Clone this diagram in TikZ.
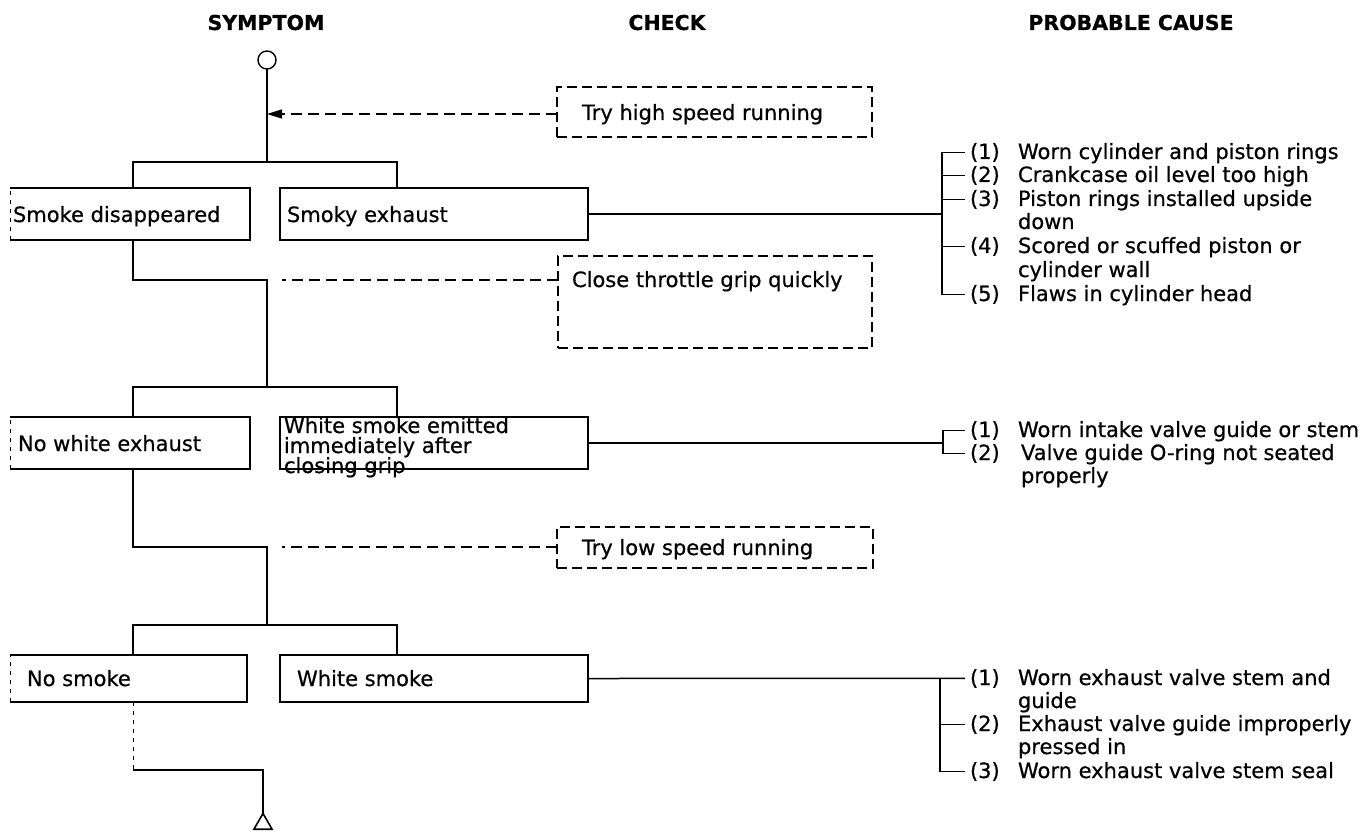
\documentclass[tikz,border=0pt]{standalone}
\usepackage{fontspec}
\setmainfont{DejaVu Sans}[FakeBold=0.6]
\usetikzlibrary{arrows.meta,shapes.geometric}
\begin{document}
\begin{tikzpicture}[x=1pt,y=-1pt,
  every node/.style={font=\fontsize{21}{24}\selectfont, inner sep=0pt, outer sep=0pt},
  hdr/.style={font=\fontsize{20.5}{24}\selectfont\bfseries, anchor=base},
  txt/.style={anchor=base west},
  area/.style={anchor=north west, draw=none},
  sbox/.style={anchor=north west, draw, line width=1.6pt},
  cbox/.style={anchor=north west, draw, line width=1.5pt, dash pattern=on 10pt off 5pt},
  ln/.style={line width=1.5pt},
  bl/.style={line width=1.6pt},
  dln/.style={line width=1.5pt, dash pattern=on 11pt off 6pt},
  faint/.style={line width=0.8pt, dash pattern=on 4pt off 5pt},
]
\useasboundingbox (0,0) rectangle (1364,834);

% headers
\node[hdr] (h1) at (266,30) {SYMPTOM};
\node[hdr] (h2) at (667,30) {CHECK};
\node[hdr] (h3) at (1131,30) {PROBABLE CAUSE};

% guide coordinates
\coordinate (xl) at (133,0);
\coordinate (xr) at (397,0);
\coordinate (j1) at (267,162);
\coordinate (a1) at (267,114);
\coordinate (m1) at (267,280);
\coordinate (d1) at (282,280);
\coordinate (j2) at (267,387);
\coordinate (m2) at (267,547);
\coordinate (d2) at (282,547);
\coordinate (j3) at (267,625);
\coordinate (q)  at (133,770);

% start / end symbols
\node[circle, draw, line width=1.4pt, minimum size=18pt] (start) at (267,60) {};
\node[regular polygon, regular polygon sides=3, draw, line width=1.6pt, minimum size=21pt] (stop) at (263,824) {};

% check boxes
\node[cbox, minimum width=315pt, minimum height=50pt] (c1) at (557,87) {};
\node[txt] (c1t) at (582,120) {Try high speed running};
\node[cbox, minimum width=314pt, minimum height=92pt] (c2) at (558,256) {};
\node[txt] (c2t) at (572,287) {Close throttle grip quickly};
\node[cbox, minimum width=316pt, minimum height=41pt] (c3) at (557,527) {};
\node[txt] (c3t) at (582,555) {Try low speed running};

% symptom boxes
\node[area, minimum width=240pt, minimum height=52pt] (b1) at (10,188) {};
\node[txt] (b1t) at (13,222) {Smoke disappeared};
\node[sbox, minimum width=308pt, minimum height=52pt] (b2) at (280,188) {};
\node[txt] (b2t) at (287,222) {Smoky exhaust};

\node[area, minimum width=240pt, minimum height=52pt] (b3) at (10,417) {};
\node[txt] (b3t) at (18,451) {No white exhaust};
\node[sbox, minimum width=308pt, minimum height=52pt] (b4) at (280,417) {};
\node[txt] (b4a) at (284,433) {White smoke emitted};
\node[txt] (b4b) at (284,453) {immediately after};
\node[txt] (b4c) at (284,473) {closing grip};

\node[area, minimum width=237pt, minimum height=47pt] (b5) at (10,655) {};
\node[txt] (b5t) at (27,686) {No smoke};
\node[sbox, minimum width=308pt, minimum height=47pt] (b6) at (280,655) {};
\node[txt] (b6t) at (297,686) {White smoke};

% open-left boxes
\foreach \b in {b1,b3,b5}{
  \draw[bl] (\b.north west) -- (\b.north east) -- (\b.south east) -- (\b.south west);
  \draw[faint] (\b.south west) -- (\b.north west);
}

% flow connectors
\draw[ln] (start.south) -- (j1);
\draw[dln, -{Triangle[length=15pt,width=9pt]}] (c1.west |- a1) -- (a1);
\draw[ln] (b1.north -| xl) |- (j1) -| (b2.north -| xr);

\draw[ln] (b1.south -| xl) |- (m1) -- (j2);
\draw[dln] (c2.west |- d1) -- (d1);
\draw[ln] (b3.north -| xl) |- (j2) -| (b4.north -| xr);

\draw[ln] (b3.south -| xl) |- (m2) -- (j3);
\draw[dln] (c3.west |- d2) -- (d2);
\draw[ln] (b5.north -| xl) |- (j3) -| (b6.north -| xr);

\draw[faint, line width=1pt] (b5.south -| xl) -- (q);
\draw[ln] (q) -| (stop.north);

% cause list 1
\node[txt] (p1n1) at (970,159) {(1)};
\node[txt] (p1t1) at (1018,159) {Worn cylinder and piston rings};
\node[txt] (p1n2) at (970,182) {(2)};
\node[txt] (p1t2) at (1018,182) {Crankcase oil level too high};
\node[txt] (p1n3) at (970,206) {(3)};
\node[txt] (p1t3) at (1018,206) {Piston rings installed upside};
\node[txt] (p1t3b) at (1018,229) {down};
\node[txt] (p1n4) at (970,253) {(4)};
\node[txt] (p1t4) at (1018,253) {Scored or scuffed piston or};
\node[txt] (p1t4b) at (1018,277) {cylinder wall};
\node[txt] (p1n5) at (970,301) {(5)};
\node[txt] (p1t5) at (1018,301) {Flaws in cylinder head};

\coordinate (k1) at (942,214);
\draw[ln] (b2.east) -- (k1);
\draw[ln] ([xshift=-5pt]p1n1.west) -| (k1);
\draw[ln] ([xshift=-5pt]p1n5.west) -| (k1);
\foreach \n in {p1n2,p1n3,p1n4}{
  \draw[ln] ([xshift=-5pt]\n.west) -- (k1 |- \n.west);
}

% cause list 2
\node[txt] (p2n1) at (970,437) {(1)};
\node[txt] (p2t1) at (1018,437) {Worn intake valve guide or stem};
\node[txt] (p2n2) at (970,460) {(2)};
\node[txt] (p2t2) at (1021,460) {Valve guide O-ring not seated};
\node[txt] (p2t2b) at (1021,483) {properly};

\coordinate (k2) at (943,443);
\draw[ln] (b4.east) -- (k2);
\draw[ln] ([xshift=-5pt]p2n1.west) -| (k2);
\draw[ln] ([xshift=-5pt]p2n2.west) -| (k2);

% cause list 3
\node[txt] (p3n1) at (970,685) {(1)};
\node[txt] (p3t1) at (1018,685) {Worn exhaust valve stem and};
\node[txt] (p3t1b) at (1018,708) {guide};
\node[txt] (p3n2) at (970,731) {(2)};
\node[txt] (p3t2) at (1018,731) {Exhaust valve guide improperly};
\node[txt] (p3t2b) at (1018,754) {pressed in};
\node[txt] (p3n3) at (970,778) {(3)};
\node[txt] (p3t3) at (1018,778) {Worn exhaust valve stem seal};

\coordinate (k3) at (940,678.5);
\draw[ln] (b6.east) -- ([xshift=-5pt]p3n1.west);
\draw[ln] (k3) |- ([xshift=-5pt]p3n3.west);
\draw[ln] (k3 |- p3n2.west) -- ([xshift=-5pt]p3n2.west);
\end{tikzpicture}
\end{document}
